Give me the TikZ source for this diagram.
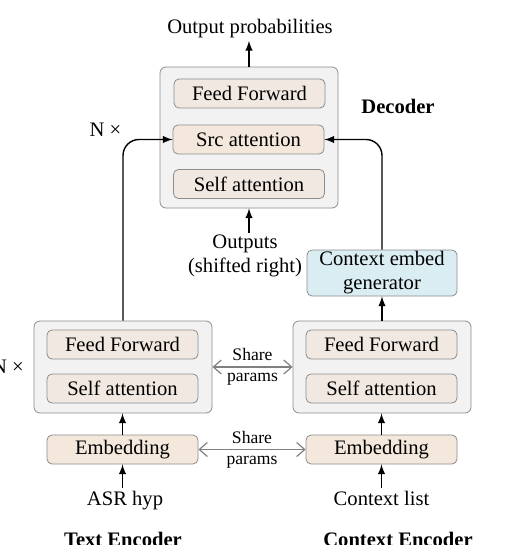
\documentclass[tikz,border=0pt]{standalone}
\usepackage{fontspec}
\setmainfont{Liberation Serif}
\usepackage[dvipsnames]{xcolor}
\usepackage{tikz}
\usetikzlibrary{shapes}
\usetikzlibrary{arrows.meta,arrows}
\usetikzlibrary{fit,positioning}
\tikzset{>=latex}
\definecolor{boxgray}{HTML}{F2F2F2}
\definecolor{lineg}{HTML}{8C8C8C}
\definecolor{beigeA}{HTML}{F1E9E1}
\definecolor{beigeB}{HTML}{F4E8DD}
\definecolor{ctxblue}{HTML}{D9EDF3}
\tikzset{
  outerbox/.style={draw=lineg, fill=boxgray, rounded corners=3pt, minimum width=89pt, inner sep=0pt},
  layerbox/.style={draw=lineg, fill=beigeA, rounded corners=2.5pt, minimum width=75.5pt, minimum height=14.5pt, inner sep=0pt},
  embbox/.style={layerbox, fill=beigeB},
  arr/.style={->, line width=0.7pt},
  share/.style={{Straight Barb[length=4pt,width=7pt]}-{Straight Barb[length=4pt,width=7pt]}, draw=gray, line width=0.6pt},
  lbl/.style={inner sep=1pt, align=center}
}

\begin{document}
\begin{tikzpicture}[x=0.5pt,y=-0.5pt, font=\fontsize{10.3}{12}\selectfont]
\useasboundingbox (0,0) rectangle (519,545);

% Decoder
\node[outerbox, minimum height=70.5pt] (dec) at (249,137.5) {};
\node[layerbox] (decff)  at (249.5,93.5) {Feed Forward};
\node[embbox]   (decsrc) at (248.5,139.5) {Src attention};
\node[layerbox] (decself) at (249,184) {Self attention};
\node[lbl, anchor=base] (outprob) at (250,34) {Output probabilities};
\node[lbl, font=\fontsize{10.3}{12}\selectfont\bfseries] (declbl) at (398,106) {Decoder};
\node[lbl] (ndec) at (105.5,130) {N ×};
\node[lbl] (outputs) at (245,256) {Outputs\\(shifted right)};

% Context embed generator
\node[draw=lineg, fill=ctxblue, rounded corners=2.5pt, minimum width=75pt, minimum height=23pt, inner sep=0pt, align=center] (ceg) at (382,273) {Context embed\\generator};

% Encoders
\node[outerbox, minimum height=46pt] (tenc) at (123,367) {};
\node[layerbox] (tencff)   at (122.5,344.5) {Feed Forward};
\node[layerbox] (tencself) at (122.5,388.5) {Self attention};
\node[outerbox, minimum height=46pt] (cenc) at (382,367) {};
\node[layerbox] (cencff)   at (381.5,344.5) {Feed Forward};
\node[layerbox] (cencself) at (381.5,388.5) {Self attention};
\node[lbl] (nenc) at (8,367) {N ×};

% Embeddings and inputs
\node[embbox] (temb) at (122.5,449.5) {Embedding};
\node[embbox] (cemb) at (381.5,449.5) {Embedding};
\node[lbl, anchor=base] (asr) at (125,505) {ASR hyp};
\node[lbl, anchor=base] (ctxlist) at (381.5,505) {Context list};
\node[lbl, anchor=base, font=\fontsize{10.3}{12}\selectfont\bfseries] (tenclbl) at (123,546) {Text Encoder};
\node[lbl, anchor=base, font=\fontsize{10.3}{12}\selectfont\bfseries] (cenclbl) at (398,546) {Context Encoder};

% Arrows
\draw[arr] (dec.north) -- (dec.north |- outprob.south);
\draw[arr] (outputs.north -| dec.south) -- (dec.south);
\draw[arr, rounded corners=8pt] (tenc.north) |- (decsrc.west);
\draw[arr, rounded corners=8pt] (ceg.north) |- (decsrc.east);
\draw[arr] (cenc.north) -- (ceg.south);
\draw[arr] (temb.north) -- (tenc.south -| temb.north);
\draw[arr] (cemb.north) -- (cenc.south -| cemb.north);
\draw[arr] (asr.north -| temb.south) -- (temb.south);
\draw[arr] (ctxlist.north -| cemb.south) -- (cemb.south);

% Share params
\draw[share] (tenc.east) -- (cenc.west) node[midway, lbl, font=\fontsize{8.8}{10.5}\selectfont] (share1) {Share\\params};
\draw[share] (temb.east) -- (cemb.west) node[midway, lbl, font=\fontsize{8.8}{10.5}\selectfont] (share2) {Share\\params};

\end{tikzpicture}
\end{document}
